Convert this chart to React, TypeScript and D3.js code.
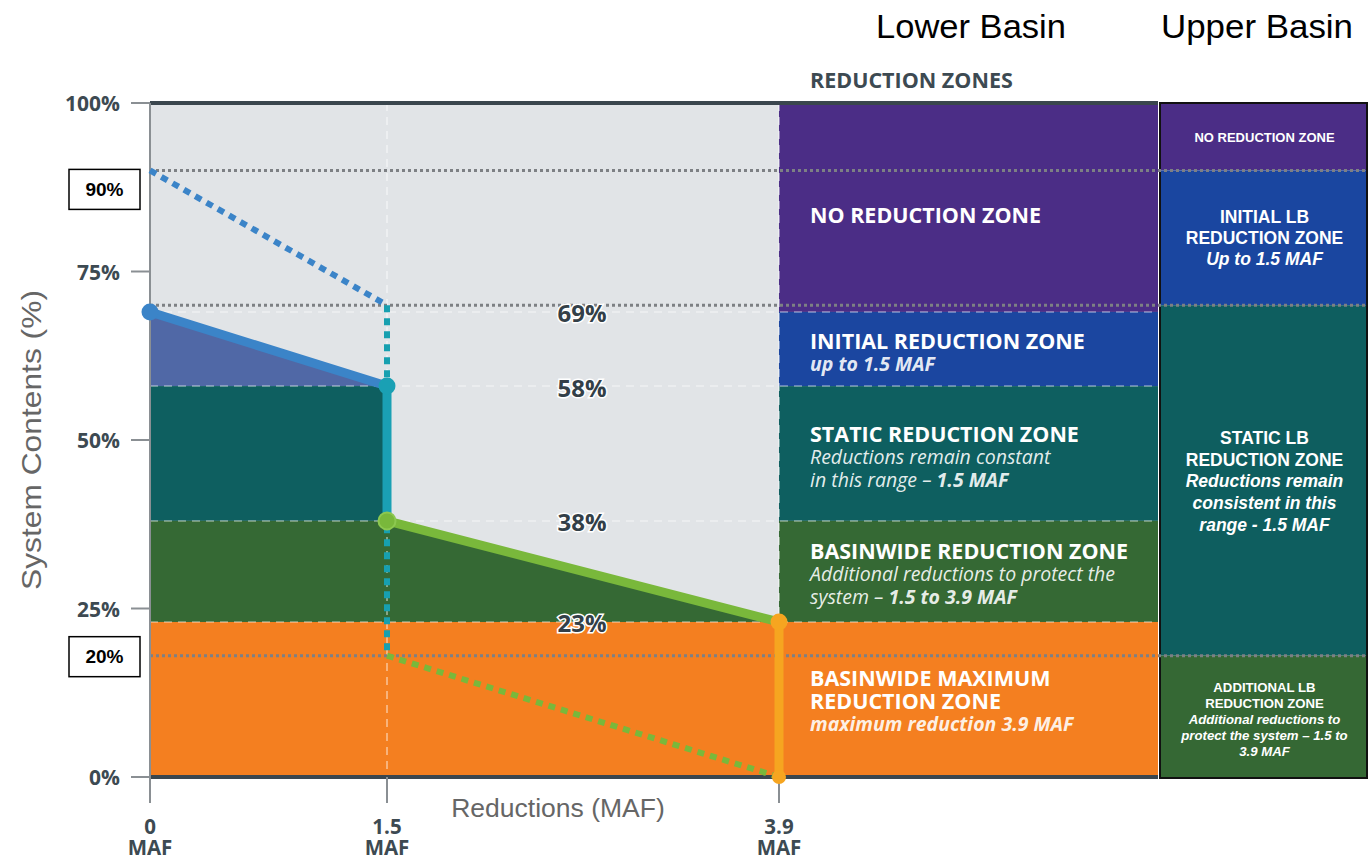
import * as d3 from 'd3';

// ---- data ----
const yTicks = [0, 25, 50, 75, 100];
const xTicks = [0, 1.5, 3.9];
const xTickLabels = ['0', '1.5', '3.9'];

// lower basin zones (top -> bottom)
const zoneTops = [100, 69, 58, 38, 23];
const zoneBottoms = [69, 58, 38, 23, 0];
const zoneColors = ['#4b2d86', '#1b46a0', '#0e5f60', '#356934', '#f47f20'];
const zoneFillLeft = ['#4b2d86', '#5068a6', '#0e5f60', '#356934', '#f47f20'];
const zoneLabels = [
  [[['NO REDUCTION ZONE', 'b']]],
  [[['INITIAL REDUCTION ZONE', 'b']], [['up to 1.5 MAF', 'bi']]],
  [
    [['STATIC REDUCTION ZONE', 'b']],
    [['Reductions remain constant', 'i']],
    [['in this range – ', 'i'], ['1.5 MAF', 'bi']],
  ],
  [
    [['BASINWIDE REDUCTION ZONE', 'b']],
    [['Additional reductions to protect the', 'i']],
    [['system – ', 'i'], ['1.5 to 3.9 MAF', 'bi']],
  ],
  [
    [['BASINWIDE MAXIMUM', 'b']],
    [['REDUCTION ZONE', 'b']],
    [['maximum reduction 3.9 MAF', 'bi']],
  ],
];
const zoneLabelY = [214, 340, 433, 550, 677];

// reduction path (solid)
const pathX = [0, 1.5, 1.5, 3.9, 3.9];
const pathY = [69, 58, 38, 23, 0];
const segColors = ['#3b84c8', '#1aa0b4', '#79b83b', '#f6a520'];
const dotColors = ['#3b84c8', '#1aa0b4', '#79b83b', '#f6a520', '#f6a520'];

// proposed path (dotted)
const dotX = [0, 1.5, 1.5, 3.9];
const dotY = [90, 70, 18, 0];
const dotSegColors = ['#3b84c8', '#17a0b0', '#79b83b'];

// upper basin / LB zones
const ubTops = [100, 90, 70, 18];
const ubBottoms = [90, 70, 18, 0];
const ubColors = ['#4b2d86', '#1a46a0', '#0e5e5f', '#356834'];
const ubLabels = [
  [['NO REDUCTION ZONE', 'b']],
  [['INITIAL LB', 'b'], ['REDUCTION ZONE', 'b'], ['Up to 1.5 MAF', 'bi']],
  [
    ['STATIC LB', 'b'],
    ['REDUCTION ZONE', 'b'],
    ['Reductions remain', 'bi'],
    ['consistent in this', 'bi'],
    ['range - 1.5 MAF', 'bi'],
  ],
  [
    ['ADDITIONAL LB', 'b'],
    ['REDUCTION ZONE', 'b'],
    ['Additional reductions to', 'bi'],
    ['protect the system – 1.5 to', 'bi'],
    ['3.9 MAF', 'bi'],
  ],
];
const ubLabelY = [137, 217, 438, 687];
const ubFont = [13, 17.5, 17.5, 13.2];
const ubLine = [0, 21, 21.7, 16];

const guideLines = [90, 70, 18];
const boxLabels = ['90%', '', '20%'];
const boxShift = [18, 0, 0];

const W = 1370;
const H = 862;
const x0 = 150;
const xZone = 779;
const xZoneEnd = 1158;
const ubLeft = 1160;
const ubRight = 1367;

const y = d3.scaleLinear().domain([0, 100]).range([777, 103]);
const x = d3.scaleLinear().domain(xTicks).range([150, 387, 779]);

const OS = "'Open Sans', 'Noto Sans', sans-serif";
const AR = "'Liberation Sans', Arial, sans-serif";

export default function App() {
  const under = d3
    .area<number>()
    .x((_, i) => x(pathX[i]))
    .y0(y(0))
    .y1((d) => y(d));
  const underPath = under(pathY) as string;

  const seg = (xs: number[], ys: number[], i: number) =>
    d3.line()([
      [x(xs[i]), y(ys[i])],
      [x(xs[i + 1]), y(ys[i + 1])],
    ]) as string;

  return (
    <svg
      width={W}
      height={H}
      style={{ position: 'absolute', left: 0, top: 0, background: '#fff' }}
    >
      <defs>
        <clipPath id="under">
          <path d={underPath} />
        </clipPath>
      </defs>

      {/* headers */}
      <text x={971} y={38} textAnchor="middle" fontFamily={AR} fontSize={33} textLength={190} lengthAdjust="spacingAndGlyphs" fill="#000">
        Lower Basin
      </text>
      <text x={1257} y={38} textAnchor="middle" fontFamily={AR} fontSize={33} textLength={192} lengthAdjust="spacingAndGlyphs" fill="#000">
        Upper Basin
      </text>
      <text x={810} y={88} fontFamily={OS} fontWeight={700} fontSize={21.5} fill="#3d4a52">
        REDUCTION ZONES
      </text>

      {/* plot background */}
      <rect x={x0} y={y(100)} width={xZone - x0} height={y(0) - y(100)} fill="#e1e4e7" />

      {/* filled bands under the reduction path */}
      <g clipPath="url(#under)">
        {zoneTops.map((t, i) => (
          <rect key={i} x={x0} y={y(t)} width={xZone - x0} height={y(zoneBottoms[i]) - y(t)} fill={zoneFillLeft[i]} />
        ))}
      </g>

      {/* lower basin zone panel */}
      {zoneTops.map((t, i) => (
        <rect key={i} x={xZone} y={y(t)} width={xZoneEnd - xZone} height={y(zoneBottoms[i]) - y(t)} fill={zoneColors[i]} />
      ))}

      {/* light dashed zone boundaries */}
      {zoneBottoms.slice(0, 4).map((b, i) => (
        <line key={i} x1={x0} x2={xZoneEnd} y1={y(b)} y2={y(b)} stroke="#ffffff" strokeOpacity={0.45} strokeWidth={1.5} strokeDasharray="8 6" />
      ))}
      {xTicks.slice(1).map((t, i) => (
        <line key={i} x1={x(t)} x2={x(t)} y1={y(100)} y2={y(0)} stroke="#ffffff" strokeOpacity={0.55} strokeWidth={1.5} strokeDasharray="8 6" />
      ))}

      {/* zone texts */}
      {zoneLabels.map((lines, i) =>
        lines.map((parts, j) => {
          const isTitle = parts[0][1] === 'b';
          return (
            <text
              key={`${i}-${j}`}
              x={810}
              y={zoneLabelY[i] + j * 23}
              dominantBaseline="central"
              fontFamily={OS}
              fontSize={isTitle ? 21.5 : 19.5}
              fill="#ffffff"
              fillOpacity={isTitle ? 1 : 0.9}
            >
              {parts.map(([s, st], k) => (
                <tspan key={k} fontWeight={st.includes('b') ? 700 : 400} fontStyle={st.includes('i') ? 'italic' : 'normal'}>
                  {s}
                </tspan>
              ))}
            </text>
          );
        })
      )}

      {/* upper basin column */}
      {ubTops.map((t, i) => (
        <rect key={i} x={ubLeft} y={y(t)} width={ubRight - ubLeft} height={y(ubBottoms[i]) - y(t)} fill={ubColors[i]} />
      ))}
      {ubLabels.map((lines, i) =>
        lines.map(([s, st], j) => (
          <text
            key={`${i}-${j}`}
            x={(ubLeft + ubRight) / 2 + 1}
            y={ubLabelY[i] + j * ubLine[i]}
            dominantBaseline="central"
            textAnchor="middle"
            fontFamily={AR}
            fontSize={ubFont[i]}
            fontWeight={700}
            fontStyle={st.includes('i') ? 'italic' : 'normal'}
            fill="#ffffff"
          >
            {s}
          </text>
        ))
      )}
      <rect x={ubLeft} y={y(100)} width={ubRight - ubLeft} height={y(0) - y(100) + 1} fill="none" stroke="#111" strokeWidth={2} />

      {/* gray dotted guides */}
      {guideLines.map((g, i) => (
        <line key={i} x1={x0} x2={ubRight} y1={y(g)} y2={y(g)} stroke="#7d8084" strokeWidth={3} strokeDasharray="3 3" />
      ))}

      {/* top / bottom frame */}
      <line x1={x0} x2={xZoneEnd} y1={y(100)} y2={y(100)} stroke="#3a464e" strokeWidth={4} />
      <line x1={x0} x2={xZoneEnd} y1={y(0)} y2={y(0)} stroke="#3a464e" strokeWidth={4} />

      {/* axes */}
      <line x1={x0} x2={x0} y1={y(100)} y2={803} stroke="#8a8f93" strokeWidth={2} />
      {yTicks.map((t) => (
        <g key={t}>
          <line x1={131} x2={x0} y1={y(t)} y2={y(t)} stroke="#8a8f93" strokeWidth={2} />
          <text x={120} y={y(t)} textAnchor="end" dominantBaseline="central" fontFamily={OS} fontWeight={700} fontSize={21} fill="#3d4a52">
            {t}%
          </text>
        </g>
      ))}
      {xTicks.map((t, i) => (
        <g key={t}>
          <line x1={x(t)} x2={x(t)} y1={y(0)} y2={803} stroke="#8a8f93" strokeWidth={2} />
          <text x={x(t)} y={826} textAnchor="middle" dominantBaseline="central" fontFamily={OS} fontWeight={700} fontSize={20.5} fill="#3d4a52">
            {xTickLabels[i]}
          </text>
          <text x={x(t)} y={847} textAnchor="middle" dominantBaseline="central" fontFamily={OS} fontWeight={700} fontSize={20.5} fill="#3d4a52">
            MAF
          </text>
        </g>
      ))}

      {/* axis titles */}
      <text x={0} y={0} transform={`translate(31,${y(50)}) rotate(-90)`} textAnchor="middle" dominantBaseline="central" fontFamily={AR} fontSize={28} textLength={300} lengthAdjust="spacingAndGlyphs" fill="#666">
        System Contents (%)
      </text>
      <text x={558} y={808} textAnchor="middle" dominantBaseline="central" fontFamily={AR} fontSize={26.5} fill="#666">
        Reductions (MAF)
      </text>

      {/* dotted proposed path */}
      {dotSegColors.map((c, i) => (
        <path key={i} d={seg(dotX, dotY, i)} stroke={c} strokeWidth={6} strokeDasharray="7 6" fill="none" />
      ))}

      {/* percent labels */}
      {zoneBottoms.slice(0, 4).map((b) => (
        <text
          key={b}
          x={582}
          y={y(b) + 1}
          textAnchor="middle"
          dominantBaseline="central"
          fontFamily={OS}
          fontWeight={700}
          fontSize={24}
          fill="#333f48"
          stroke="#ffffff"
          strokeWidth={3}
          paintOrder="stroke"
        >
          {b}%
        </text>
      ))}

      {/* solid reduction path */}
      {segColors.map((c, i) => (
        <path key={i} d={seg(pathX, pathY, i)} stroke={c} strokeWidth={9} strokeLinecap="round" fill="none" />
      ))}
      {pathX.map((px, i) => (
        <circle key={i} cx={x(px)} cy={y(pathY[i])} r={i === 4 ? 7 : 8.5} fill={dotColors[i]} stroke={i === 2 ? '#8cc850' : 'none'} strokeWidth={2} />
      ))}

      {/* annotation boxes */}
      {guideLines.map((g, i) =>
        boxLabels[i] ? (
          <g key={i}>
            <rect x={69} y={y(g) - 19 + boxShift[i]} width={71} height={40} fill="#fff" stroke="#000" strokeWidth={1.5} />
            <text x={104.5} y={y(g) + 1 + boxShift[i]} textAnchor="middle" dominantBaseline="central" fontFamily={AR} fontWeight={700} fontSize={19} fill="#000">
              {boxLabels[i]}
            </text>
          </g>
        ) : null
      )}
    </svg>
  );
}
